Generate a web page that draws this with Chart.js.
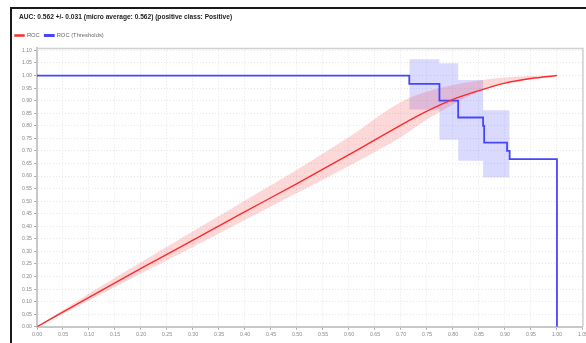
<!DOCTYPE html>
<html>
<head>
<meta charset="utf-8">
<script src="https://cdn.jsdelivr.net/npm/chart.js@4/dist/chart.umd.min.js"></script>
<style>
  html, body { margin: 0; padding: 0; background: #fff; overflow: hidden; width: 586px; height: 343px; }
  #frame { position: absolute; left: 10px; top: 7px; width: 620px; height: 360px; z-index: 2;
           border-left: 2px solid #1a1a1a; border-top: 2px solid #1a1a1a; pointer-events: none; }
  #wrap { position: absolute; left: 10px; top: 9px; width: 580px; height: 334px; }
</style>
</head>
<body>
<div id="frame"></div>
<div id="wrap"><canvas id="roc"></canvas></div>
<script>
// ROC curve (averaged) with its deviation band
const rocFpr      = [0, 0.10, 0.20, 0.30, 0.40, 0.50, 0.60, 0.70, 0.75, 0.80, 0.85, 0.90, 0.95, 1.00];
const rocTpr      = [0, 0.117, 0.232, 0.345, 0.458, 0.570, 0.685, 0.803, 0.858, 0.905, 0.940, 0.970, 0.988, 1.00];
const rocTprUpper = [0, 0.132, 0.257, 0.380, 0.503, 0.625, 0.755, 0.895, 0.935, 0.962, 0.980, 0.992, 0.998, 1.00];
const rocTprLower = [0, 0.105, 0.212, 0.317, 0.425, 0.532, 0.640, 0.755, 0.825, 0.885, 0.935, 0.968, 0.988, 1.00];

// ROC over thresholds (step curve) and its deviation band
const thrFpr = [0, 0.716, 0.774, 0.810, 0.858, 0.860, 0.904, 0.909, 1.00];
const thrTpr = [1.00, 0.967, 0.900, 0.833, 0.800, 0.733, 0.700, 0.667, 0.00];
const thrBandFpr   = [0.716, 0.774, 0.810, 0.858, 0.909];
const thrBandUpper = [1.065, 1.049, 0.982, 0.862, 0.862];
const thrBandLower = [0.865, 0.744, 0.661, 0.594, 0.594];

// Axis tick values
const xTicks = [0, 0.05, 0.10, 0.15, 0.20, 0.25, 0.30, 0.35, 0.40, 0.45, 0.50, 0.55, 0.60, 0.65, 0.70, 0.75, 0.80, 0.85, 0.90, 0.95, 1.00, 1.05];
const yTicks = [0, 0.05, 0.10, 0.15, 0.20, 0.25, 0.30, 0.35, 0.40, 0.45, 0.50, 0.55, 0.60, 0.65, 0.70, 0.75, 0.80, 0.85, 0.90, 0.95, 1.00, 1.05, 1.10];

const titleText = 'AUC: 0.562 +/- 0.031 (micro average: 0.562) (positive class: Positive)';
const FONT = '"Liberation Sans", Arial, sans-serif';

const pts = (xs, ys) => xs.map((x, i) => ({ x: x, y: ys[i] }));

// Headline drawn at the top-left of the canvas
const headline = {
  id: 'headline',
  afterDraw(chart, args, opts) {
    const ctx = chart.ctx;
    ctx.save();
    ctx.font = 'bold ' + opts.size + 'px ' + FONT;
    ctx.fillStyle = opts.color;
    ctx.textBaseline = 'middle';
    ctx.textAlign = 'left';
    ctx.fillText(opts.text, opts.x, opts.y);
    ctx.restore();
  }
};

// Thin frame along the top and right of the plot area
const plotFrame = {
  id: 'plotFrame',
  afterDatasetsDraw(chart, args, opts) {
    const a = chart.chartArea, ctx = chart.ctx;
    ctx.save();
    ctx.strokeStyle = opts.color;
    ctx.lineWidth = opts.width;
    ctx.beginPath();
    ctx.moveTo(a.left, a.top);
    ctx.lineTo(a.right, a.top);
    ctx.lineTo(a.right, a.bottom);
    ctx.stroke();
    ctx.restore();
  }
};

const tickFont = { size: 5.2, family: FONT };

new Chart(document.getElementById('roc'), {
  type: 'line',
  data: {
    datasets: [
      { label: 'ROC', data: pts(rocFpr, rocTpr), borderColor: '#ff2a2a', backgroundColor: '#ff2a2a',
        borderWidth: 1.4, pointRadius: 0, fill: false, cubicInterpolationMode: 'monotone' },
      { label: 'ROC (Thresholds)', data: pts(thrFpr, thrTpr), borderColor: '#4646ff', backgroundColor: '#4646ff',
        borderWidth: 1.8, pointRadius: 0, fill: false, stepped: 'before' },
      { label: 'roc-upper', data: pts(rocFpr, rocTprUpper), borderWidth: 0, borderColor: 'rgba(0,0,0,0)',
        pointRadius: 0, fill: false, cubicInterpolationMode: 'monotone' },
      { label: 'roc-lower', data: pts(rocFpr, rocTprLower), borderWidth: 0, borderColor: 'rgba(0,0,0,0)',
        pointRadius: 0, fill: '-1', backgroundColor: 'rgba(240,40,40,0.18)', cubicInterpolationMode: 'monotone' },
      { label: 'thr-upper', data: pts(thrBandFpr, thrBandUpper), borderWidth: 0, borderColor: 'rgba(0,0,0,0)',
        pointRadius: 0, fill: false, stepped: 'before' },
      { label: 'thr-lower', data: pts(thrBandFpr, thrBandLower), borderWidth: 0, borderColor: 'rgba(0,0,0,0)',
        pointRadius: 0, fill: '-1', backgroundColor: 'rgba(70,70,255,0.2)', stepped: 'before' }
    ]
  },
  options: {
    responsive: true,
    maintainAspectRatio: false,
    animation: false,
    devicePixelRatio: 1,
    layout: { padding: { top: 18.6, left: 0, right: 0, bottom: 3 } },
    plugins: {
      title: { display: false },
      tooltip: { enabled: false },
      headline: { text: titleText, size: 6.6, color: '#222', x: 9, y: 8 },
      plotFrame: { color: '#d0d0d0', width: 1.5 },
      legend: {
        display: true, position: 'top', align: 'start',
        labels: {
          font: { size: 5.8, family: FONT }, color: '#666',
          boxWidth: 9, boxHeight: 1, padding: 5,
          filter: item => item.datasetIndex < 2
        }
      }
    },
    scales: {
      x: {
        type: 'linear', min: 0, max: 1.05,
        afterBuildTicks: s => { s.ticks = xTicks.map(v => ({ value: v })); },
        ticks: { callback: v => v.toFixed(2), font: tickFont, color: '#888', padding: 2, maxRotation: 0, autoSkip: false },
        grid: { color: '#e6e6e6', tickColor: '#aaa', tickLength: 3, tickBorderDash: [] },
        border: { display: true, color: '#c8c8c8', width: 2, dash: [1, 2] }
      },
      y: {
        type: 'linear', min: 0, max: 1.108,
        afterBuildTicks: s => { s.ticks = yTicks.map(v => ({ value: v })); },
        afterFit: s => { s.width = 27; },
        ticks: { callback: v => v.toFixed(2), font: tickFont, color: '#888', padding: 2, autoSkip: false },
        grid: { color: '#e6e6e6', tickColor: '#aaa', tickLength: 3, tickBorderDash: [] },
        border: { display: true, color: '#c8c8c8', width: 2, dash: [1, 2] }
      }
    }
  },
  plugins: [headline, plotFrame]
});
</script>
</body>
</html>
